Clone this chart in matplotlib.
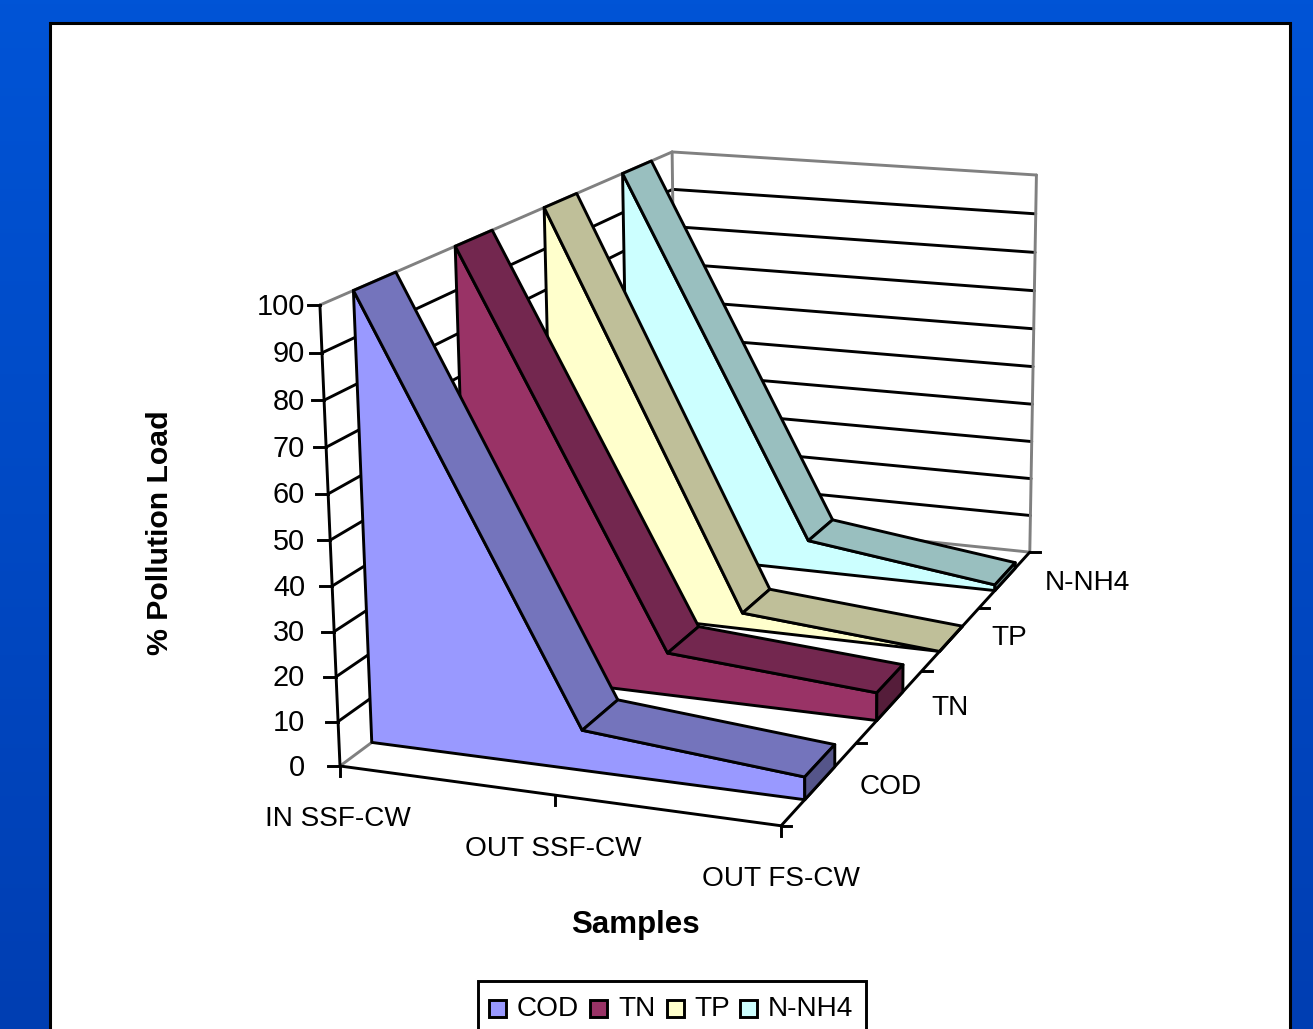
import numpy as np
import matplotlib
matplotlib.use('Agg')
import matplotlib.pyplot as plt
from matplotlib.patches import Polygon, Rectangle

plt.rcParams['font.family'] = ['Liberation Sans', 'DejaVu Sans']

# data
categories = ['IN SSF-CW', 'OUT SSF-CW', 'OUT FS-CW']
series_names = ['COD', 'TN', 'TP', 'N-NH4']
cod = [100, 9, 5]
tn = [100, 10, 6.5]
tp = [100, 4, 0]
nh4 = [100, 8, 1.5]
y_ticks = list(range(0, 101, 10))

face_colors = ['#9999FF', '#993366', '#FFFFCC', '#CCFFFF']
strip_colors = ['#7474BC', '#73274F', '#BFBF99', '#99BFBF']
cap_colors = ['#55558A', '#551D3A', '#8F8F73', '#739090']

LW = 2.1
FS = 20.2
W, H = 1313, 1029

# fit the 3d box -> picture projection (x 0..1, value 0..100, depth 0..1)
anchors = [
    ((0, 0, 0), (339, 767)), ((1, 0, 0), (782, 825)), ((1, 0, 1), (1028, 553)),
    ((0, 0, 1), (680, 515)), ((0, 100, 0), (322, 305)), ((0, 100, 1), (669, 152)),
    ((1, 100, 1), (1038, 175)), ((1, 0, 0.5), (922, 671)), ((0.5, 0, 0), (553, 795)),
]
rows = []
for (a, b, c), (u, v) in anchors:
    b = b / 100
    rows.append([a, b, c, 1, 0, 0, 0, 0, -u * a, -u * b, -u * c, -u])
    rows.append([0, 0, 0, 0, a, b, c, 1, -v * a, -v * b, -v * c, -v])
P = np.linalg.svd(np.array(rows, float))[2][-1].reshape(3, 4)


def proj(x, y, z):
    p = P @ np.array([x, y / 100, z, 1.0])
    return p[0] / p[2], p[1] / p[2]


fig = plt.figure(figsize=(W / 100, H / 100), dpi=100)
ax = fig.add_axes([0, 0, 1, 1])
ax.set_xlim(0, W)
ax.set_ylim(H, 0)
ax.axis('off')

# slide background
grad = np.zeros((256, 1, 3))
t = np.linspace(0, 1, 256)
grad[:, 0, 0] = 0
grad[:, 0, 1] = (84 - 22 * t) / 255
grad[:, 0, 2] = (214 - 36 * t) / 255
ax.imshow(grad, extent=[0, W, H, 0], aspect='auto', zorder=0)
ax.set_xlim(0, W)
ax.set_ylim(H, 0)
ax.add_patch(Rectangle((50, 23), 1240, 1020, fc='white', ec='black', lw=2.2, zorder=1))


def line3d(p, q, color='black', lw=LW, z=2):
    a, b = proj(*p), proj(*q)
    ax.plot([a[0], b[0]], [a[1], b[1]], color=color, lw=lw, zorder=z, solid_capstyle='round')


# walls and gridlines
for v in y_ticks[1:-1]:
    line3d((0, v, 0), (0, v, 1))
    line3d((0, v, 1), (1, v, 1))
gray = '#808080'
line3d((0, 100, 0), (0, 100, 1), gray)
line3d((0, 100, 1), (1, 100, 1), gray)
line3d((1, 100, 1), (1, 0, 1), gray)
line3d((0, 100, 1), (0, 0, 1), gray)
line3d((0, 0, 0), (0, 0, 1), gray)
line3d((0, 0, 1), (1, 0, 1), gray)

# axes lines and ticks
line3d((0, 0, 0), (0, 100, 0), z=2.5)
line3d((0, 0, 0), (1, 0, 0), z=2.5)
line3d((1, 0, 0), (1, 0, 1), z=2.5)
for v in y_ticks:
    u0, v0 = proj(0, v, 0)
    ax.plot([u0 - 12, u0], [v0, v0], color='black', lw=LW, zorder=2.5)
    ax.text(305, v0 + 1.5, str(v), ha='right', va='center', fontsize=FS + 0.6, color='black', zorder=5)
cat_x = np.linspace(0, 1, len(categories))
cat_dx = [-2, -2, 0]
cat_dy = [53, 54, 53]
for cx, name, dx, dy in zip(cat_x, categories, cat_dx, cat_dy):
    u0, v0 = proj(cx, 0, 0)
    ax.plot([u0, u0], [v0, v0 + 10], color='black', lw=LW, zorder=2.5)
    ax.text(u0 + dx, v0 + dy, name, ha='center', va='center', fontsize=FS, color='black', zorder=5)
n = len(series_names)
for k in range(n + 1):
    u0, v0 = proj(1, 0, k / n)
    ax.plot([u0, u0 + 10], [v0, v0], color='black', lw=LW, zorder=2.5)
name_dx = [71, 60, 58, 82]
name_dy = [4, 2, -1, 4]
for k, name in enumerate(series_names):
    u0, v0 = proj(1, 0, (k + 0.5) / n)
    ax.text(u0 + name_dx[k], v0 + name_dy[k], name, ha='center', va='center', fontsize=FS,
            color='black', zorder=5)

# series, back to front
all_values = [cod, tn, tp, nh4]
for k in range(n - 1, -1, -1):
    vals = all_values[k]
    z0 = (k + 0.3) / n
    z1 = (k + 0.7) / n
    zo = 3 + (n - k) * 0.1
    front = [proj(cx, v, z0) for cx, v in zip(cat_x, vals)]
    back = [proj(cx, v, z1) for cx, v in zip(cat_x, vals)]
    base_l = proj(0, 0, z0)
    base_r = proj(1, 0, z0)
    ax.add_patch(Polygon(front + [base_r, base_l], closed=True, fc=face_colors[k], ec='black',
                         lw=LW, joinstyle='round', zorder=zo))
    for i in range(len(vals) - 1):
        ax.add_patch(Polygon([front[i], front[i + 1], back[i + 1], back[i]], closed=True,
                             fc=strip_colors[k], ec='black', lw=LW, joinstyle='round', zorder=zo))
    ax.add_patch(Polygon([front[-1], back[-1], proj(1, 0, z1), base_r], closed=True,
                         fc=cap_colors[k], ec='black', lw=LW, joinstyle='round', zorder=zo))

# axis titles
ax.text(160, 533, '% Pollution Load', rotation=90, ha='center', va='center',
        fontsize=21.8, fontweight='bold', color='black', zorder=5)
ax.text(635, 925, 'Samples', ha='center', va='center', fontsize=22.5, fontweight='bold',
        color='black', zorder=5)

# legend
ax.add_patch(Rectangle((478, 980.5), 388, 70, fc='white', ec='black', lw=LW, zorder=4))
swatch_x = [489, 590, 667, 740]
text_x = [517, 618, 694, 768]
for name, c, sx, tx in zip(series_names, face_colors, swatch_x, text_x):
    ax.add_patch(Rectangle((sx, 1000), 17, 17, fc=c, ec='black', lw=LW, zorder=5))
    ax.text(tx, 1009.5, name, ha='left', va='center', fontsize=FS, color='black', zorder=5)

fig.savefig('out.png', dpi=100)
